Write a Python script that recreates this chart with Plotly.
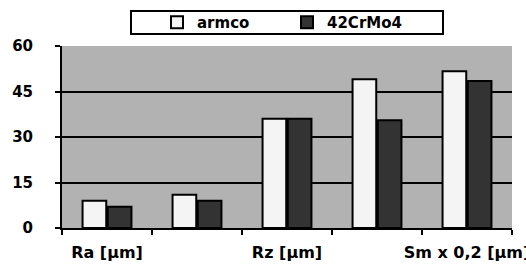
import plotly.graph_objects as go

categories = [0, 1, 2, 3, 4]
tick_positions = [0, 2, 4]
tick_labels = ["Ra [µm]", "Rz [µm]", "Sm x 0,2 [µm]"]
armco = [9, 11, 36, 49, 51.7]
crmo = [7, 9, 36, 35.5, 48.5]
y_ticks = [0, 15, 30, 45, 60]

FONT = dict(family="DejaVu Sans", size=15, color="black", weight="bold")
XFONT = dict(family="DejaVu Sans", size=16, color="black", weight="bold")

fig = go.Figure()
fig.add_trace(go.Bar(x=categories, y=armco, name="armco",
                     marker=dict(color="#f4f4f4", line=dict(color="black", width=2))))
fig.add_trace(go.Bar(x=categories, y=crmo, name="42CrMo4",
                     marker=dict(color="#333333", line=dict(color="black", width=2))))

# legend frame
L, T, W, H = 62, 46, 450, 182
fig.add_shape(type="rect", xref="paper", yref="paper",
              x0=(131 - L) / W, x1=(443 - L) / W,
              y0=(228 - 34) / H, y1=(228 - 11) / H,
              line=dict(color="black", width=2), fillcolor="white", layer="above")

fig.update_layout(
    width=526, height=264,
    margin=dict(l=L, r=526 - L - W, t=T, b=264 - T - H, autoexpand=False),
    paper_bgcolor="white", plot_bgcolor="#b2b2b2",
    font=FONT,
    barmode="group", bargap=0.44, bargroupgap=0.06,
    showlegend=True,
    legend=dict(orientation="h", x=0.5, xanchor="center",
                y=(228 - 22.5) / H, yanchor="middle",
                bgcolor="rgba(0,0,0,0)", borderwidth=0,
                entrywidth=85, font=FONT, traceorder="normal"),
    xaxis=dict(range=[-0.5, 4.5], tickmode="array", tickvals=tick_positions,
               ticktext=tick_labels, ticks="outside", ticklen=5,
               tickcolor="rgba(0,0,0,0)", showgrid=False, zeroline=False,
               showline=True, linecolor="black", linewidth=2, tickfont=XFONT,
               ticklabelstandoff=4, automargin=False, ticklabeloverflow="allow",
               minor=dict(tickmode="linear", tick0=-0.5, dtick=1, ticks="outside",
                          ticklen=5, tickwidth=2, tickcolor="black", showgrid=False)),
    yaxis=dict(range=[0, 60], tickmode="array", tickvals=y_ticks,
               ticks="outside", ticklen=5, tickwidth=2, tickcolor="black",
               showgrid=True, gridcolor="black", gridwidth=2, zeroline=False,
               showline=True, linecolor="black", linewidth=2,
               ticklabelstandoff=19, automargin=False),
)

fig.write_html("out.html", config={"displayModeBar": False},
               post_script="document.body.style.margin='0';document.body.style.overflow='hidden';")
